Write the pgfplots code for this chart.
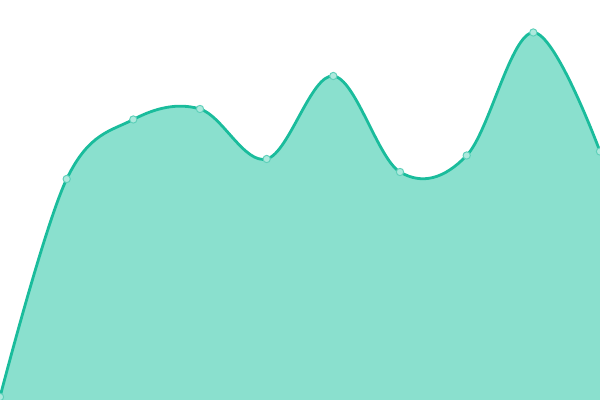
\documentclass[border=0pt]{standalone}
\usepackage{pgfplots}
\pgfplotsset{compat=1.18}
\definecolor{turq}{HTML}{1ABC9C}
\definecolor{turqfill}{HTML}{8AE0CE}
\begin{document}
\begin{tikzpicture}
\pgfplotstableread{
x y
0 3
66.7 221
133.3 280.5
200 291
266.7 241
333.3 324
400 228
466.7 244.5
533.3 367.5
600 248.5
}\series
\begin{axis}[
  width=15cm, height=10cm, scale only axis,
  xmin=0, xmax=600, ymin=0, ymax=400,
  hide axis, clip=true,
]
\addplot [draw=none, fill=turqfill, smooth, tension=0.6] table {\series} \closedcycle;
\addplot [turq, line width=2pt, smooth, tension=0.6,
  mark=*, mark size=2.6pt,
  mark options={fill=turqfill!70!white, draw=turq!70!white, line width=0.7pt}] table {\series};
\end{axis}
\pgfresetboundingbox
\path (current axis.south west) rectangle (current axis.north east);
\end{tikzpicture}
\end{document}
